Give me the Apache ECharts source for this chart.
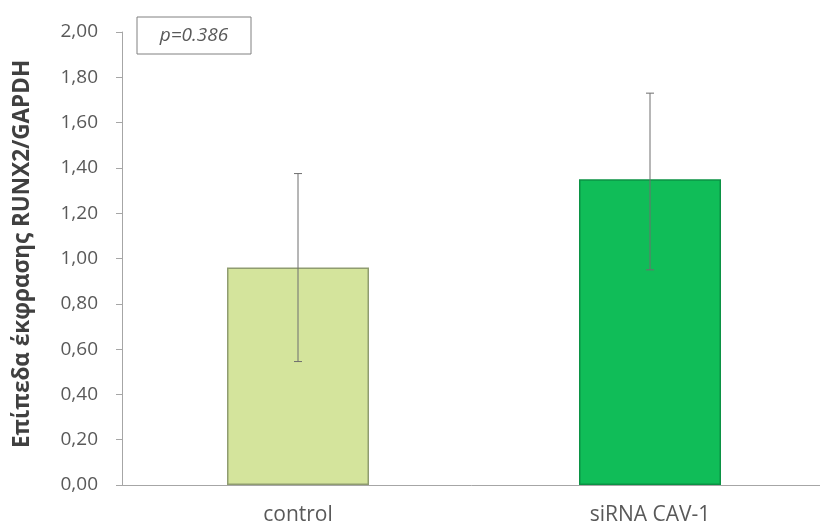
<!DOCTYPE html>
<html>
<head>
<meta charset="utf-8">
<script src="https://cdn.jsdelivr.net/npm/echarts@6/dist/echarts.min.js"></script>
<style>html,body{margin:0;padding:0;background:#fff}#c{width:820px;height:529px}</style>
</head>
<body>
<div id="c"></div>
<script>
const categories = ['control', 'siRNA CAV-1'];
const means = [0.96, 1.35];
const errLow = [0.545, 0.95];
const errHigh = [1.375, 1.73];
const barFills = ['#d4e49c', '#10bd58'];
const barBorders = ['#8f9c70', '#0b9244'];
const yTicks = { min: 0, max: 2, interval: 0.2 };
const yTitle = 'Επίπεδα έκφρασης RUNX2/GAPDH';
const pText = 'p=0.386';

const chart = echarts.init(document.getElementById('c'), null, { renderer: 'canvas' });
const FONT = '"Open Sans", sans-serif';

chart.setOption({
  animation: false,
  backgroundColor: '#fff',
  grid: { left: 122, top: 32, width: 704, bottom: 44, containLabel: false, outerBoundsMode: 'none' },
  xAxis: {
    type: 'category',
    data: categories,
    axisLine: { show: true, lineStyle: { color: '#a6a6a6', width: 1 } },
    axisTick: { show: false },
    axisLabel: { color: '#595959', fontSize: 21, fontFamily: FONT, margin: 20 },
    splitLine: { show: false }
  },
  yAxis: {
    type: 'value',
    min: yTicks.min, max: yTicks.max, interval: yTicks.interval,
    axisLine: { show: true, lineStyle: { color: '#a6a6a6', width: 1 } },
    axisTick: { show: true, inside: false, length: 6, lineStyle: { color: '#a6a6a6' } },
    axisLabel: {
      color: '#595959', fontSize: 19, fontFamily: FONT, margin: 24,
      formatter: v => v.toFixed(2).replace('.', ',')
    },
    splitLine: { show: false }
  },
  series: [
    {
      type: 'bar',
      barWidth: 142,
      data: means.map((v, i) => ({
        value: v,
        itemStyle: { color: barFills[i], borderColor: barBorders[i], borderWidth: 1.5 }
      })),
      z: 2
    },
    {
      type: 'custom',
      z: 5,
      data: categories.map((c, i) => [i, errLow[i], errHigh[i]]),
      renderItem: function (params, api) {
        const x = api.value(0);
        const lo = api.coord([x, api.value(1)]);
        const hi = api.coord([x, api.value(2)]);
        const cap = 4;
        const style = { stroke: '#6e6e6e', lineWidth: 1 };
        return {
          type: 'group',
          children: [
            { type: 'line', shape: { x1: hi[0], y1: hi[1], x2: lo[0], y2: lo[1] }, style },
            { type: 'line', shape: { x1: hi[0] - cap, y1: hi[1], x2: hi[0] + cap, y2: hi[1] }, style },
            { type: 'line', shape: { x1: lo[0] - cap, y1: lo[1], x2: lo[0] + cap, y2: lo[1] }, style }
          ]
        };
      }
    }
  ],
  graphic: [
    {
      type: 'rect',
      shape: { x: 137, y: 17, width: 114, height: 37 },
      style: { fill: '#fff', stroke: '#808080', lineWidth: 1 }
    },
    {
      type: 'text',
      x: 194, y: 36,
      style: {
        text: pText, fill: '#595959', fontStyle: 'italic', fontSize: 19, fontFamily: FONT,
        align: 'center', verticalAlign: 'middle'
      }
    },
    {
      type: 'text',
      x: 23, y: 254,
      rotation: Math.PI / 2,
      style: {
        text: yTitle, fill: '#404040', fontWeight: 'bold', fontSize: 22.5, fontFamily: FONT,
        align: 'center', verticalAlign: 'middle'
      }
    }
  ]
});
</script>
</body>
</html>
